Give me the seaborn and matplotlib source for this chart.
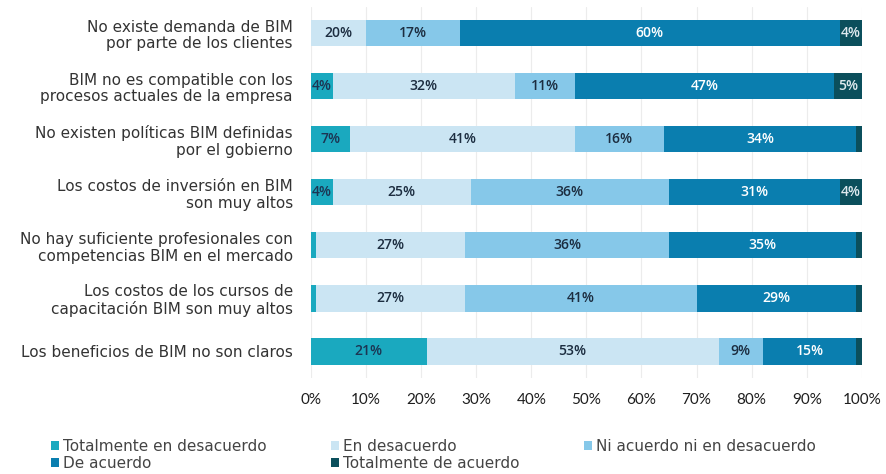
import matplotlib
matplotlib.use("Agg")
import matplotlib.pyplot as plt
import numpy as np
import pandas as pd
import seaborn as sns
from matplotlib.patches import Patch

CATEGORIES = [
    "No existe demanda de BIM\npor parte de los clientes",
    "BIM no es compatible con los\nprocesos actuales de la empresa",
    "No existen políticas BIM definidas\npor el gobierno",
    "Los costos de inversión en BIM\nson muy altos",
    "No hay suficiente profesionales con\ncompetencias BIM en el mercado",
    "Los costos de los cursos de\ncapacitación BIM son muy altos",
    "Los beneficios de BIM no son claros",
]

SERIES = [
    "Totalmente en desacuerdo",
    "En desacuerdo",
    "Ni acuerdo ni en desacuerdo",
    "De acuerdo",
    "Totalmente de acuerdo",
]

# bar widths (%) as drawn
totalmente_desacuerdo = [0, 4, 7, 4, 1, 1, 21]
en_desacuerdo = [10, 33, 41, 25, 27, 27, 53]
ni_acuerdo = [17, 11, 16, 36, 37, 42, 8]
de_acuerdo = [69, 47, 35, 31, 34, 29, 17]
totalmente_acuerdo = [4, 5, 1, 4, 1, 1, 1]

# printed labels (as in the source chart)
lbl_td = ["", "4%", "7%", "4%", "", "", "21%"]
lbl_ed = ["20%", "32%", "41%", "25%", "27%", "27%", "53%"]
lbl_na = ["17%", "11%", "16%", "36%", "36%", "41%", "9%"]
lbl_da = ["60%", "47%", "34%", "31%", "35%", "29%", "15%"]
lbl_ta = ["4%", "5%", "", "4%", "", "", ""]

COLORS = ["#1aa9bf", "#cbe5f3", "#86c8e9", "#0a7eaf", "#0b4f5c"]
LABEL_COLORS = ["#1c3553", "#1c2d40", "#1c2d40", "white", "#dfe9ee"]

values = [totalmente_desacuerdo, en_desacuerdo, ni_acuerdo, de_acuerdo, totalmente_acuerdo]
labels = [lbl_td, lbl_ed, lbl_na, lbl_da, lbl_ta]

df = pd.DataFrame({s: v for s, v in zip(SERIES, values)}, index=CATEGORIES)
cum = df.cumsum(axis=1)

sns.set_style("white")
plt.rcParams["font.family"] = ["DejaVu Sans"]

fig = plt.figure(figsize=(8.87, 4.74), dpi=100)
ax = fig.add_axes([0.3506, 0.203, 0.621, 0.783])

# draw cumulative totals from the last series backwards so earlier ones sit on top
for i in reversed(range(len(SERIES))):
    sns.barplot(
        x=cum[SERIES[i]].values,
        y=CATEGORIES,
        orient="h",
        color=COLORS[i],
        saturation=1,
        width=0.5,
        linewidth=0,
        ax=ax,
    )

for i, s in enumerate(SERIES):
    ends = cum[s].values
    widths = df[s].values
    for row, (end, w, txt) in enumerate(zip(ends, widths, labels[i])):
        if not txt:
            continue
        ax.text(end - w / 2, row, txt, ha="center", va="center",
                fontsize=10, fontweight="semibold", color=LABEL_COLORS[i],
                family=["Open Sans", "DejaVu Sans"])

ax.set_xlim(0, 100)
ax.set_ylim(6.5, -0.5)
ax.set_xticks(np.arange(0, 101, 10))
ax.set_xticklabels([f"{t}%" for t in range(0, 101, 10)], fontsize=11,
                   color="#1e1e1e", family=["Lato", "DejaVu Sans"])
ax.tick_params(axis="x", length=0, pad=11)
ax.tick_params(axis="y", length=0, pad=13)
for t in ax.get_yticklabels():
    t.set_fontsize(11)
    t.set_color("#333333")
    t.set_horizontalalignment("right")
    t.set_multialignment("right")
    t.set_linespacing(1.15)
ax.set_xlabel("")
ax.set_ylabel("")
ax.grid(axis="x", color="#ececec", linewidth=0.8)
ax.set_axisbelow(True)
for sp in ax.spines.values():
    sp.set_visible(False)

handles = [Patch(facecolor=c, edgecolor="none") for c in COLORS]
order = [0, 3, 1, 4, 2]
fig.legend(
    [handles[i] for i in order],
    [SERIES[i] for i in order],
    loc="lower left",
    bbox_to_anchor=(0.042, -0.022),
    ncol=3,
    frameon=False,
    fontsize=11,
    labelcolor="#444444",
    handlelength=0.5,
    handleheight=0.5,
    handletextpad=0.3,
    columnspacing=4.2,
    labelspacing=0.12,
)

fig.savefig("out.png", dpi=100)
